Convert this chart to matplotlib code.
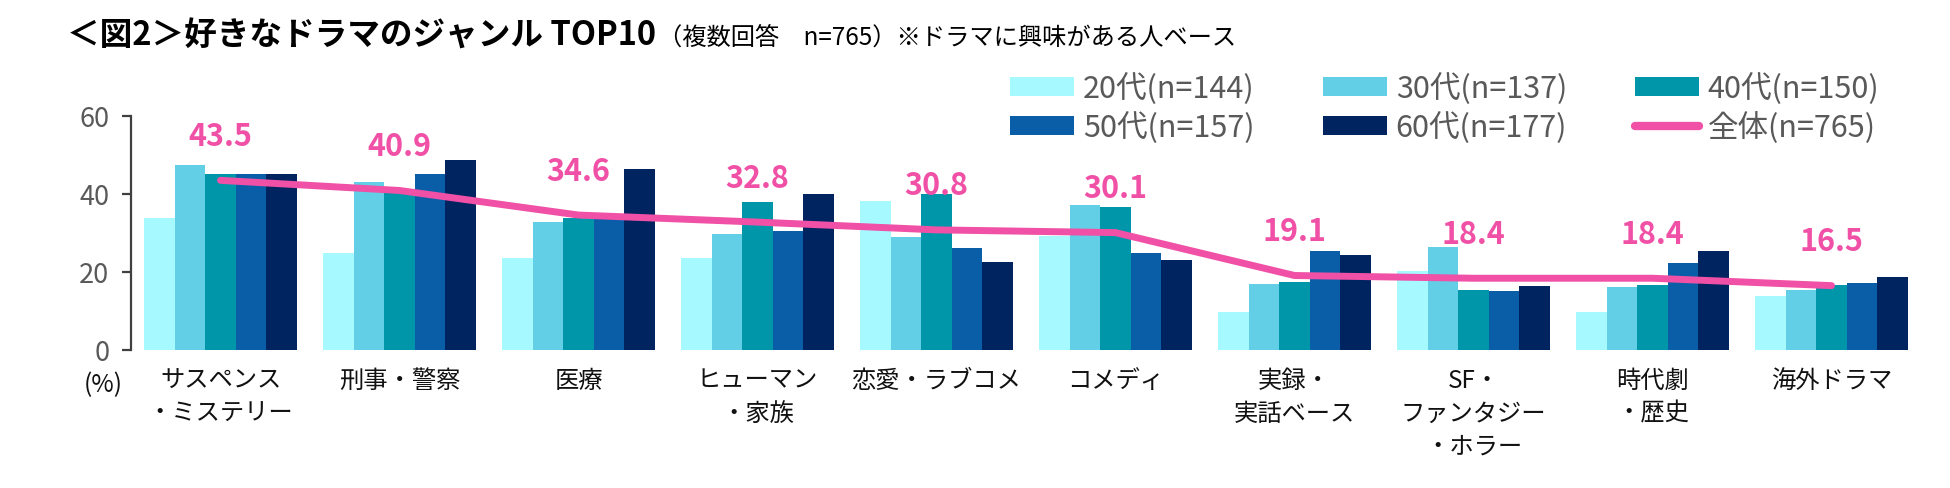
import numpy as np
import matplotlib
matplotlib.use('Agg')
import matplotlib.pyplot as plt
from matplotlib.patches import Patch
from matplotlib.lines import Line2D

plt.rcParams['font.family'] = ['Noto Sans CJK JP', 'DejaVu Sans']

# data
genres = ['サスペンス\n・ミステリー', '刑事・警察', '医療', 'ヒューマン\n・家族', '恋愛・ラブコメ',
          'コメディ', '実録・\n実話ベース', 'SF・\nファンタジー\n・ホラー', '時代劇\n・歴史', '海外ドラマ']
age_labels = ['20代(n=144)', '30代(n=137)', '40代(n=150)', '50代(n=157)', '60代(n=177)']
age20 = [33.9, 25.0, 23.5, 23.5, 38.1, 29.2, 9.8, 20.2, 9.8, 13.9]
age30 = [47.5, 43.0, 32.7, 29.8, 29.1, 37.2, 16.8, 26.3, 16.1, 15.3]
age40 = [45.2, 41.3, 33.8, 38.0, 40.0, 36.7, 17.4, 15.4, 16.6, 16.6]
age50 = [45.2, 45.2, 34.8, 30.5, 26.1, 24.8, 25.4, 15.1, 22.2, 17.1]
age60 = [45.2, 48.6, 46.4, 40.0, 22.6, 23.2, 24.3, 16.3, 25.3, 18.6]
total_label = '全体(n=765)'
total = [43.5, 40.9, 34.6, 32.8, 30.8, 30.1, 19.1, 18.4, 18.4, 16.5]

colors = ['#A6FAFF', '#62CFE6', '#0096AA', '#0A5EA8', '#002460']
pink = '#F050A5'
gray = '#595959'

fig = plt.figure(figsize=(19.5, 4.89), dpi=100)
ax = fig.add_axes([131 / 1950, 1 - 351 / 489, 1790 / 1950, 234 / 489])

x = np.arange(len(genres))
w = 0.17
series = [age20, age30, age40, age50, age60]
for k, vals in enumerate(series):
    ax.bar(x + (k - 2) * w, vals, width=w, color=colors[k], linewidth=0, zorder=2)

ax.plot(x, total, color=pink, linewidth=5, solid_capstyle='round',
        solid_joinstyle='round', zorder=3)
for xi, v in zip(x, total):
    ax.annotate(f'{v:.1f}', (xi, v), xytext=(0, 32), textcoords='offset points',
                ha='center', va='center', color=pink, fontsize=22,
                fontweight='bold', zorder=4)

ax.set_xlim(-0.5, len(genres) - 0.5)
ax.set_ylim(0, 60)
ax.set_yticks([0, 20, 40, 60])
ax.set_xticks(x)
ax.set_xticklabels(genres, fontsize=17.5, color='#111111', linespacing=1.35)
for s in ['top', 'right', 'bottom']:
    ax.spines[s].set_visible(False)
ax.spines['left'].set_color('#404040')
ax.spines['left'].set_linewidth(1.6)
ax.tick_params(axis='y', direction='out', length=6.5, width=1.6, color='#404040',
               labelsize=19.5, labelcolor=gray, pad=9)
ax.tick_params(axis='x', length=0, pad=12)

fig.text(103 / 1950, 1 - 385 / 489, '(%)', ha='center', va='center',
         fontsize=17.5, color='#111111')

# title + subtitle
title = fig.text(67 / 1950, 1 - 36 / 489, '＜図2＞好きなドラマのジャンル TOP10',
                 ha='left', va='center', fontsize=23.5, fontweight='bold', color='black')
fig.canvas.draw()
bb = title.get_window_extent()
fig.text(bb.x1 / 1950 + 0.001, 1 - 38 / 489, '（複数回答　n=765）※ドラマに興味がある人ベース',
         ha='left', va='center', fontsize=17.5, color='black')

# legend: three columns anchored at the reference positions
handles = [Patch(facecolor=c, edgecolor='none') for c in colors]
handles.append(Line2D([0], [0], color=pink, linewidth=6, solid_capstyle='round'))
labels = age_labels + [total_label]
col_x = [1010, 1323, 1635]
for c in range(3):
    fig.legend([handles[c], handles[c + 3]], [labels[c], labels[c + 3]],
               loc='upper left', bbox_to_anchor=(col_x[c] / 1950, 1 - 73 / 489),
               frameon=False, fontsize=22, handlelength=2.1, handleheight=0.58,
               handletextpad=0.28, labelspacing=0.24, borderpad=0, borderaxespad=0,
               labelcolor=gray)

fig.savefig('out.png', dpi=100)
